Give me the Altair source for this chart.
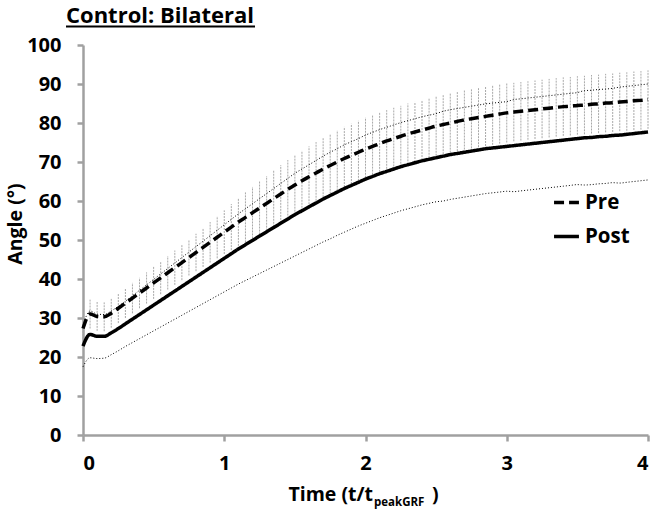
import altair as alt
import pandas as pd

# ---------------- data ----------------
title_text = "Control: Bilateral"
series_names = ["Pre", "Post"]
x_ticks = [0, 1, 2, 3, 4]
y_ticks = [0, 10, 20, 30, 40, 50, 60, 70, 80, 90, 100]

# time grid, t / t_peakGRF, every 0.05
t = [round(i * 0.05, 2) for i in range(81)]

pre = [27.3, 31.0, 30.4, 30.3, 31.2, 32.5, 33.8, 35.1, 36.4, 37.7,
       39.0, 40.3, 41.6, 42.9, 44.2, 45.5, 46.8, 48.1, 49.4, 50.7,
       52.0, 53.3, 54.6, 55.8, 57.0, 58.2, 59.4, 60.6, 61.8, 63.0,
       64.1, 65.2, 66.2, 67.2, 68.2, 69.1, 70.0, 70.9, 71.7, 72.5,
       73.3, 74.0, 74.7, 75.4, 76.0, 76.6, 77.2, 77.7, 78.2, 78.7,
       79.2, 79.6, 80.0, 80.4, 80.8, 81.1, 81.4, 81.7, 82.0, 82.3,
       82.6, 82.8, 83.0, 83.2, 83.4, 83.6, 83.8, 84.0, 84.2, 84.3,
       84.5, 84.6, 84.8, 84.9, 85.1, 85.2, 85.4, 85.5, 85.7, 85.8,
       86.0]

pre_sd = [3.5, 3.7, 3.7, 3.7, 3.7, 3.8, 3.8, 3.9, 3.9, 4.0,
          4.1, 4.2, 4.3, 4.4, 4.5, 4.6, 4.8, 5.0, 5.2, 5.4,
          5.6, 5.9, 6.1, 6.4, 6.6, 6.8, 7.0, 7.2, 7.4, 7.5,
          7.6, 7.7, 7.8, 7.9, 8.0, 8.0, 8.1, 8.1, 8.1, 8.1,
          8.1, 8.0, 8.0, 7.9, 7.9, 7.8, 7.8, 7.7, 7.7, 7.6,
          7.6, 7.6, 7.6, 7.6, 7.6, 7.6, 7.6, 7.6, 7.6, 7.6,
          7.6, 7.5, 7.5, 7.5, 7.5, 7.5, 7.5, 7.5, 7.5, 7.5,
          7.5, 7.5, 7.5, 7.5, 7.5, 7.5, 7.5, 7.5, 7.5, 7.5,
          7.5]

post = [22.8, 25.8, 25.3, 25.3, 26.2, 27.3, 28.5, 29.7, 30.9, 32.1,
        33.3, 34.5, 35.7, 36.9, 38.1, 39.3, 40.5, 41.7, 42.9, 44.1,
        45.3, 46.5, 47.7, 48.8, 49.9, 51.0, 52.1, 53.2, 54.3, 55.4,
        56.5, 57.5, 58.5, 59.5, 60.5, 61.4, 62.3, 63.2, 64.0, 64.8,
        65.6, 66.3, 67.0, 67.6, 68.2, 68.8, 69.3, 69.8, 70.3, 70.7,
        71.1, 71.5, 71.9, 72.2, 72.5, 72.8, 73.1, 73.4, 73.6, 73.8,
        74.0, 74.2, 74.4, 74.6, 74.8, 75.0, 75.2, 75.4, 75.6, 75.8,
        76.0, 76.2, 76.3, 76.5, 76.6, 76.8, 76.9, 77.1, 77.3, 77.5,
        77.7]

post_sd = [5.3, 6.0, 5.7, 5.6, 5.6, 5.7, 5.8, 6.0, 6.2, 6.4,
           6.6, 6.8, 7.0, 7.2, 7.4, 7.6, 7.8, 8.0, 8.2, 8.4,
           8.6, 8.8, 9.0, 9.2, 9.4, 9.6, 9.8, 10.0, 10.2, 10.4,
           10.6, 10.7, 10.8, 10.9, 11.0, 11.1, 11.1, 11.2, 11.2, 11.2,
           11.3, 11.3, 11.3, 11.3, 11.3, 11.3, 11.3, 11.3, 11.3, 11.3,
           11.3, 11.5, 11.5, 11.5, 11.5, 11.5, 11.5, 11.5, 11.5, 11.5,
           11.5, 11.8, 11.8, 11.8, 11.8, 11.8, 11.8, 11.8, 11.8, 11.8,
           11.8, 12.1, 12.1, 12.1, 12.1, 12.1, 12.3, 12.3, 12.3, 12.3,
           12.3]

df = pd.DataFrame({"t": t, "Pre": pre, "pre_sd": pre_sd,
                   "Post": post, "post_sd": post_sd})

FONT = "Open Sans"
AXIS_GRAY = "#a0a0a0"

x_scale = alt.Scale(domain=[0, 4], nice=False, zero=False)
y_scale = alt.Scale(domain=[0, 100], nice=False)

x_axis = alt.Axis(values=x_ticks, format="d", title=None, grid=False,
                  labelFont=FONT, labelFontSize=20, labelFontWeight="bold",
                  labelColor="black", labelPadding=12, labelOverlap=False,
                  domainColor=AXIS_GRAY, domainWidth=2.5,
                  tickColor=AXIS_GRAY, tickWidth=2.5, tickSize=6)
y_axis = alt.Axis(values=y_ticks, format="d", title=None, grid=False,
                  labelFont=FONT, labelFontSize=20, labelFontWeight="bold",
                  labelColor="black", labelPadding=16, labelOverlap=False,
                  domainColor=AXIS_GRAY, domainWidth=2.5,
                  tickColor=AXIS_GRAY, tickWidth=2.5, tickSize=6)


def X(field):
    return alt.X(field, scale=x_scale, axis=x_axis)


def Y(field):
    return alt.Y(field, scale=y_scale, axis=y_axis)


base = alt.Chart(df)

# Pre +/- SD hatch (vertical error bars)
hatch = base.transform_calculate(
    lo="datum.Pre - datum.pre_sd", hi="datum.Pre + datum.pre_sd"
).mark_rule(color="#a8a8a8", strokeWidth=1, strokeDash=[2, 1]).encode(
    x=X("t:Q"), y=Y("lo:Q"), y2="hi:Q",
)

# Post +/- SD dotted lines
post_hi = base.transform_calculate(v="datum.Post + datum.post_sd").mark_line(
    color="black", strokeWidth=1, strokeDash=[1, 2], interpolate="monotone"
).encode(x=X("t:Q"), y=Y("v:Q"))
post_lo = base.transform_calculate(v="datum.Post - datum.post_sd").mark_line(
    color="black", strokeWidth=1, strokeDash=[1, 2], interpolate="monotone"
).encode(x=X("t:Q"), y=Y("v:Q"))

# main means
means = base.transform_fold(series_names, as_=["series", "angle"]).mark_line(
    color="black", strokeWidth=3.5, interpolate="monotone"
).encode(
    x=X("t:Q"),
    y=Y("angle:Q"),
    strokeDash=alt.StrokeDash(
        "series:N",
        scale=alt.Scale(domain=series_names, range=[[10, 5], [1, 0]]),
        legend=alt.Legend(
            title=None, orient="none", legendX=469, legendY=143,
            symbolType="stroke", symbolSize=620, symbolStrokeWidth=3.5,
            symbolStrokeColor="black", labelFont=FONT, labelFontSize=20.5,
            labelFontWeight="bold", labelColor="black", labelOffset=4,
            rowPadding=9, symbolOffset=0,
        ),
    ),
    detail="series:N",
)

# title with underline
title = alt.Chart(pd.DataFrame({"label": [title_text]})).mark_text(
    align="left", baseline="alphabetic", font=FONT, fontSize=22,
    fontWeight="bold", color="black"
).encode(text="label:N", x=alt.value(-17), y=alt.value(-22))
underline = alt.Chart(pd.DataFrame({"label": [title_text]})).mark_rule(
    color="black", strokeWidth=1.8
).encode(x=alt.value(-17), x2=alt.value(172), y=alt.value(-18.5))

# axis titles
ytitle = alt.Chart(pd.DataFrame({"label": ["Angle (°)"]})).mark_text(
    angle=270, align="center", baseline="middle", font=FONT, fontSize=19.5,
    fontWeight="bold", color="black"
).encode(text="label:N", x=alt.value(-67), y=alt.value(179))

xt_main = alt.Chart(pd.DataFrame({"label": ["Time (t/t"]})).mark_text(
    align="right", baseline="alphabetic", font=FONT, fontSize=19.5,
    fontWeight="bold", color="black"
).encode(text="label:N", x=alt.value(290), y=alt.value(456))
xt_sub = alt.Chart(pd.DataFrame({"label": ["peakGRF"]})).mark_text(
    align="left", baseline="alphabetic", font=FONT, fontSize=11.5,
    fontWeight="bold", color="black"
).encode(text="label:N", x=alt.value(291), y=alt.value(461))
xt_end = alt.Chart(pd.DataFrame({"label": [")"]})).mark_text(
    align="left", baseline="alphabetic", font=FONT, fontSize=19.5,
    fontWeight="bold", color="black"
).encode(text="label:N", x=alt.value(349), y=alt.value(456))

chart = alt.layer(
    hatch, post_hi, post_lo, means, title, underline, ytitle,
    xt_main, xt_sub, xt_end
).properties(
    width=565, height=390,
    autosize=alt.AutoSizeParams(type="none"),
    padding={"left": 83, "top": 45, "right": 7, "bottom": 82},
    background="white",
).configure_view(stroke=None)

chart.save("out.html", embed_options={"renderer": "svg", "actions": False})
